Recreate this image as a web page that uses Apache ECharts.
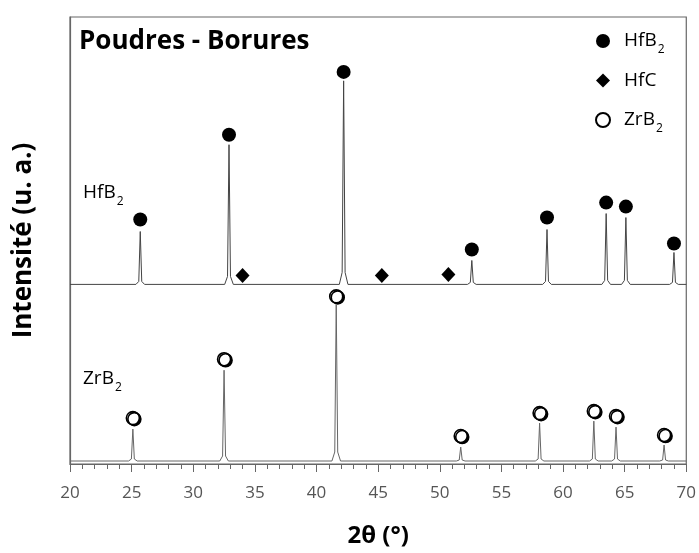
<!DOCTYPE html>
<html><head><meta charset="utf-8">
<script src="https://cdn.jsdelivr.net/npm/echarts@6/dist/echarts.min.js"></script>
<style>html,body{margin:0;padding:0;background:#fff}#c{width:699px;height:553px}</style>
</head><body><div id="c"></div>
<script>
// XRD profiles: [2theta, intensity above own baseline]
const hfb2Profile = [
 [20,0],
 [25.35,0],[25.58,3],[25.7,53],[25.82,3],[26.05,0],
 [32.55,0],[32.78,8],[32.9,140],[33.02,8],[33.25,0],
 [41.85,0],[42.08,12],[42.2,204],[42.32,12],[42.55,0],
 [52.25,0],[52.48,2],[52.6,24],[52.72,2],[52.95,0],
 [58.35,0],[58.58,3],[58.7,55],[58.82,3],[59.05,0],
 [63.15,0],[63.38,4],[63.5,71],[63.62,4],[63.85,0],
 [64.75,0],[64.98,4],[65.1,67],[65.22,4],[65.45,0],
 [68.65,0],[68.88,2],[69.0,32],[69.12,2],[69.35,0],
 [70,0]
];
const zrb2Profile = [
 [20,0],
 [24.75,0],[24.98,2],[25.1,32],[25.22,2],[25.45,0],
 [32.15,0],[32.38,5],[32.5,91],[32.62,5],[32.85,0],
 [41.25,0],[41.48,9],[41.6,157],[41.72,9],[41.95,0],
 [51.35,0],[51.58,1],[51.7,14],[51.82,1],[52.05,0],
 [57.75,0],[57.98,2],[58.1,38],[58.22,2],[58.45,0],
 [62.15,0],[62.38,2],[62.5,40],[62.62,2],[62.85,0],
 [63.95,0],[64.18,2],[64.3,34],[64.42,2],[64.65,0],
 [67.85,0],[68.08,1],[68.2,16],[68.32,1],[68.55,0],
 [70,0]
];
const hfb2Offset = 180;
const zrb2Offset = 3;
// phase markers [2theta, intensity position]
const hfb2Markers = [[25.7,245],[32.9,330],[42.2,393],[52.6,215],[58.7,247],[63.5,262],[65.1,258],[69.0,221]];
const hfcMarkers = [[34.0,189],[45.3,189],[50.7,190]];
const zrb2Markers = [[25.1,46],[32.5,105],[41.6,168],[51.7,28],[58.1,51],[62.5,53],[64.3,48],[68.2,29]];
const xTicks = {min:20, max:70, step:5};

const FONT = 'Open Sans';
const subLegend = {
  a:{fontSize:19, fontFamily:FONT, color:'#000', lineHeight:24, padding:[0,0,0,9]},
  s:{fontSize:12, fontFamily:FONT, color:'#000', lineHeight:24, padding:[18,0,0,1]}
};
const subLabel = {
  a:{fontSize:19, fontFamily:FONT, color:'#000', lineHeight:24},
  s:{fontSize:12, fontFamily:FONT, color:'#000', lineHeight:24, padding:[18,0,0,1]}
};
const chart = echarts.init(document.getElementById('c'), null, {renderer:'canvas'});
chart.setOption({
  backgroundColor:'#fff',
  animation:false,
  title:{text:'Poudres - Borures', left:74, top:24,
    textStyle:{fontFamily:FONT, fontWeight:'bold', fontSize:26, color:'#000'}},
  legend:{orient:'vertical', left:590, top:21, itemGap:15, itemWidth:14, itemHeight:14,
    data:['HfB2','HfC','ZrB2'],
    formatter: n => n==='HfC' ? '{a|HfC}' : '{a|'+n.slice(0,3)+'}{s|2}',
    textStyle:{rich:subLegend}},
  grid:{left:70, right:10, top:17, bottom:88, show:true, borderColor:'#666', borderWidth:1.2},
  xAxis:{type:'value', min:xTicks.min, max:xTicks.max, interval:xTicks.step,
    name:'2θ (°)', nameLocation:'middle', nameGap:60,
    nameTextStyle:{fontFamily:FONT, fontWeight:'bold', fontSize:24, color:'#000'},
    axisLine:{lineStyle:{color:'#666', width:1.2}},
    axisTick:{length:8, lineStyle:{color:'#666'}},
    minorTick:{show:true, splitNumber:5, length:5, lineStyle:{color:'#666'}},
    splitLine:{show:false},
    axisLabel:{fontFamily:FONT, fontSize:17, color:'#555', margin:21}},
  yAxis:{type:'value', min:0, max:448,
    name:'Intensité (u. a.)', nameLocation:'middle', nameGap:33,
    nameTextStyle:{fontFamily:FONT, fontWeight:'bold', fontSize:26, color:'#000'},
    axisLine:{show:true, lineStyle:{color:'#666', width:1.2}},
    axisTick:{show:false}, axisLabel:{show:false}, splitLine:{show:false}},
  graphic:[
    {type:'text', left:83, top:178, style:{rich:subLabel, text:'{a|HfB}{s|2}'}},
    {type:'text', left:83, top:364, style:{rich:subLabel, text:'{a|ZrB}{s|2}'}}
  ],
  series:[
    {type:'line', name:'hfb2-pattern', data:hfb2Profile.map(p=>[p[0],p[1]+hfb2Offset]),
     showSymbol:false, lineStyle:{color:'#444', width:1}, silent:true},
    {type:'line', name:'zrb2-pattern', data:zrb2Profile.map(p=>[p[0],p[1]+zrb2Offset]),
     showSymbol:false, lineStyle:{color:'#666', width:1}, silent:true},
    {type:'scatter', name:'HfB2', data:hfb2Markers, symbol:'circle', symbolSize:14,
     itemStyle:{color:'#000', opacity:1}},
    {type:'scatter', name:'HfC', data:hfcMarkers, symbol:'diamond', symbolSize:[14,15],
     itemStyle:{color:'#000', opacity:1}},
    {type:'scatter', name:'ZrB2', data:zrb2Markers, symbol:'circle', symbolSize:13,
     itemStyle:{color:'#fff', opacity:1, borderColor:'#000', borderWidth:1.6,
       shadowColor:'#000', shadowOffsetX:1.5, shadowOffsetY:1, shadowBlur:0}}
  ]
});
</script></body></html>
